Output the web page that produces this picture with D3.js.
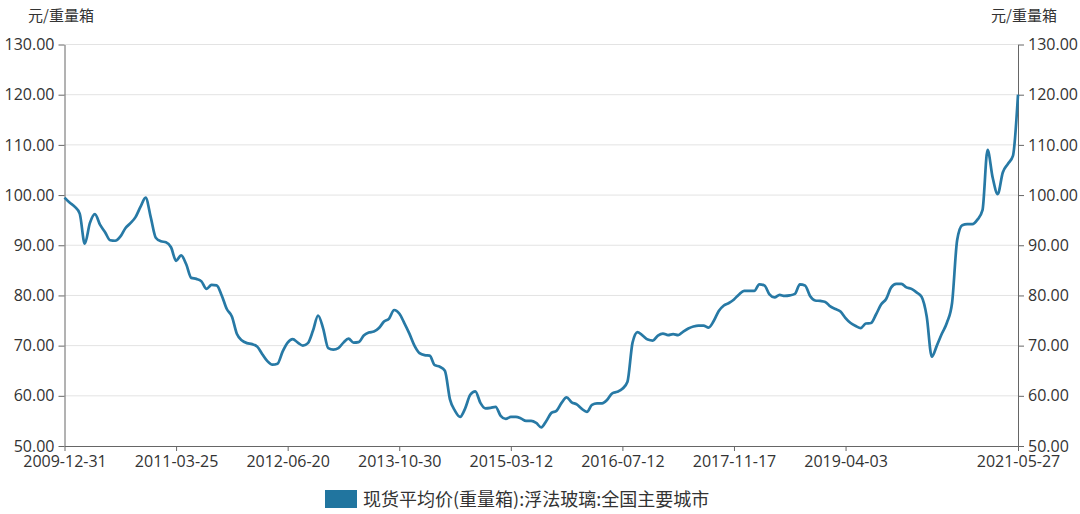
<!DOCTYPE html>
<html><head><meta charset="utf-8">
<script src="https://cdn.jsdelivr.net/npm/d3@7"></script>
<style>body{margin:0;background:#fff}svg{display:block}</style>
</head><body>
<svg id="c" width="1080" height="514"></svg>
<script>
const seriesName = "现货平均价(重量箱):浮法玻璃:全国主要城市";
const unitLabel = "元/重量箱";
const xTickLabels = ["2009-12-31","2011-03-25","2012-06-20","2013-10-30","2015-03-12","2016-07-12","2017-11-17","2019-04-03","2021-05-27"];
const xTickIndex = [0,22,44,66,88,110,132,154,188];
const yTicks = [50,60,70,80,90,100,110,120,130];
const values = [
99.5,98.5,97.7,96.3,90.3,94.4,96.2,94.1,92.6,91.0,
90.9,91.7,93.4,94.4,95.6,97.7,99.5,95.6,91.5,90.8,
90.6,89.6,86.9,88.0,86.2,83.5,83.3,82.8,81.3,82.1,
82.0,80.0,77.3,75.8,72.3,71.0,70.5,70.3,69.8,68.3,
66.9,66.2,66.4,68.8,70.6,71.3,70.6,70.0,70.5,73.0,
76.0,73.4,69.5,69.2,69.5,70.6,71.4,70.6,70.7,72.0,
72.6,72.8,73.5,74.8,75.4,77.1,76.4,74.5,72.4,70.0,
68.5,68.1,68.0,66.1,65.8,65.0,59.3,57.0,55.8,57.5,
60.2,60.9,58.6,57.5,57.6,57.8,56.0,55.4,55.8,55.8,
55.5,55.0,55.0,54.6,53.7,55.0,56.6,57.0,58.6,59.7,
58.7,58.3,57.4,56.8,58.2,58.5,58.5,59.2,60.5,60.8,
61.4,62.8,70.6,72.7,72.0,71.2,71.0,72.0,72.4,72.1,
72.3,72.1,72.8,73.4,73.8,74.0,74.0,73.6,74.9,76.9,
78.0,78.5,79.2,80.2,80.9,80.9,80.9,82.2,82.0,80.2,
79.6,80.1,79.9,80.0,80.3,82.2,82.0,79.9,79.0,78.9,
78.7,77.8,77.3,76.8,75.5,74.5,73.9,73.5,74.4,74.5,
76.2,78.2,79.3,81.6,82.3,82.3,81.6,81.3,80.6,79.7,
75.8,67.8,70.0,72.4,74.6,78.5,91.0,94.0,94.2,94.2,
95.1,97.0,109.0,103.5,100.2,104.5,106.2,107.8,120.0
];

const FONT = "'Open Sans','Noto Sans CJK SC',sans-serif";
const CJK = "'Noto Sans CJK SC',sans-serif";
const svg = d3.select("#c");
const L = 64.5, R = 1018, T = 44.5, B = 446;
const x = d3.scaleLinear().domain([0, values.length - 1]).range([L, R]);
const y = d3.scaleLinear().domain([50, 130]).range([B, T]);

// grid
svg.append("g").selectAll("line").data(yTicks.filter(d => d > 50)).join("line")
  .attr("x1", L).attr("x2", R).attr("y1", d => y(d)).attr("y2", d => y(d))
  .attr("stroke", "#e3e3e3").attr("stroke-width", 1);

function styleAxis(g) {
  g.selectAll(".domain").attr("stroke", "#666");
  g.selectAll(".tick line").attr("stroke", "#666");
  g.selectAll(".tick text").attr("fill", "#333").style("font-family", FONT).style("font-size", "16px");
}

const fmt = d3.format(".2f");
svg.append("g").attr("transform", `translate(${L},0)`)
  .call(d3.axisLeft(y).tickValues(yTicks).tickFormat(fmt).tickSize(6).tickSizeOuter(0).tickPadding(4))
  .call(styleAxis);
svg.append("g").attr("transform", `translate(${R},0)`)
  .call(d3.axisRight(y).tickValues(yTicks).tickFormat(fmt).tickSize(6).tickSizeOuter(0).tickPadding(4))
  .call(styleAxis);
svg.append("g").attr("transform", `translate(0,${B})`)
  .call(d3.axisBottom(x).tickValues(xTickIndex).tickFormat((d, i) => xTickLabels[i]).tickSize(5).tickSizeOuter(0).tickPadding(5))
  .call(styleAxis);

// unit labels
svg.append("text").attr("x", 28).attr("y", 21).attr("text-anchor", "start")
  .attr("fill", "#333").style("font-family", CJK).style("font-size", "15px").text(unitLabel);
svg.append("text").attr("x", 1057).attr("y", 21).attr("text-anchor", "end")
  .attr("fill", "#333").style("font-family", CJK).style("font-size", "15px").text(unitLabel);

// line
const line = d3.line().x((d, i) => x(i)).y(d => y(d)).curve(d3.curveMonotoneX);
svg.append("path").datum(values).attr("d", line)
  .attr("fill", "none").attr("stroke", "#2779a5").attr("stroke-width", 2.7)
  .attr("stroke-linejoin", "round");

// legend
const lg = svg.append("g").attr("transform", "translate(325,490)");
lg.append("rect").attr("width", 32).attr("height", 18).attr("fill", "#21759f");
lg.append("text").attr("x", 38).attr("y", 16).attr("fill", "#333")
  .style("font-family", CJK).style("font-size", "18px").text(seriesName);
</script>
</body></html>
